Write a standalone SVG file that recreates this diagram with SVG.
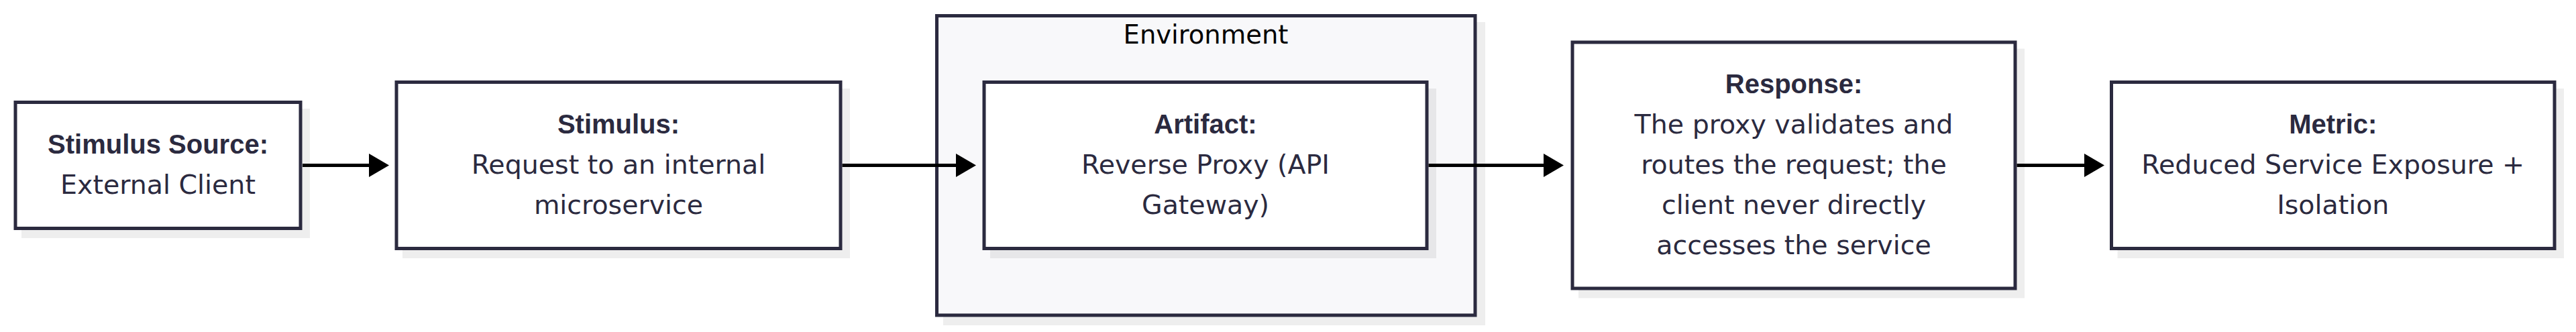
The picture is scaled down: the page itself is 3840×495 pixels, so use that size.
<svg xmlns="http://www.w3.org/2000/svg" width="3840" height="495" viewBox="0 0 3840 495">
<style>
.box{fill:#ffffff;stroke:#2b2a3f;stroke-width:5}
.env{fill:#f8f8fa;stroke:#2b2a3f;stroke-width:5}
.sh{fill:#000000;fill-opacity:0.065}
.t{font-family:"DejaVu Sans",sans-serif;font-size:39.5px;fill:#2b2a3f;text-anchor:middle}
.b{font-family:"Liberation Sans",Arial,sans-serif;font-weight:bold;font-size:40px;fill:#2b2a3f;text-anchor:middle}
.lbl{font-family:"DejaVu Sans",sans-serif;font-size:38.5px;fill:#000000;text-anchor:middle}
.edge{stroke:#000000;stroke-width:5;fill:none}
</style>
<defs>
<marker id="ah" markerUnits="userSpaceOnUse" markerWidth="30" markerHeight="35" refX="5" refY="17.5" orient="auto">
<path d="M0,0 L30,17.5 L0,35 Z" fill="#000000"/>
</marker>
</defs>
<rect width="3840" height="495" fill="#ffffff"/>
<g id="environment">
<rect class="sh" x="1406" y="33" width="808" height="452"/>
<rect class="env" x="1396.5" y="23.5" width="802.5" height="446.5"/>
<text class="lbl" x="1797.5" y="65">Environment</text>
</g>
<g id="stimulus-source">
<rect class="sh" x="32" y="162" width="430" height="193"/>
<rect class="box" x="23" y="152.5" width="425" height="188"/>
<text class="b" x="235.5" y="229.3">Stimulus Source:</text>
<text class="t" x="235.5" y="289.3">External Client</text>
</g>
<g id="stimulus">
<rect class="sh" x="600" y="132" width="667" height="253"/>
<rect class="box" x="591" y="122.5" width="662" height="248"/>
<text class="b" x="922" y="199.3">Stimulus:</text>
<text class="t" x="922" y="259.3">Request to an internal</text>
<text class="t" x="922" y="319.3">microservice</text>
</g>
<g id="artifact">
<rect class="sh" x="1476" y="132" width="665" height="253"/>
<rect class="box" x="1467" y="122.5" width="660" height="248"/>
<text class="b" x="1797" y="199.3">Artifact:</text>
<text class="t" x="1797" y="259.3">Reverse Proxy (API</text>
<text class="t" x="1797" y="319.3">Gateway)</text>
</g>
<g id="response">
<rect class="sh" x="2353" y="72.5" width="665" height="372"/>
<rect class="box" x="2344" y="63" width="660" height="367"/>
<text class="b" x="2674" y="139.3">Response:</text>
<text class="t" x="2674" y="199.3">The proxy validates and</text>
<text class="t" x="2674" y="259.3">routes the request; the</text>
<text class="t" x="2674" y="319.3">client never directly</text>
<text class="t" x="2674" y="379.3">accesses the service</text>
</g>
<g id="metric">
<rect class="sh" x="3156.5" y="132" width="665.5" height="253"/>
<rect class="box" x="3147.5" y="122.5" width="660.5" height="248"/>
<text class="b" x="3477.75" y="199.3">Metric:</text>
<text class="t" x="3477.75" y="259.3">Reduced Service Exposure +</text>
<text class="t" x="3477.75" y="319.3">Isolation</text>
</g>
<g id="connectors">
<line class="edge" x1="451" y1="246.5" x2="555" y2="246.5" marker-end="url(#ah)"/>
<line class="edge" x1="1255.5" y1="246.5" x2="1430" y2="246.5" marker-end="url(#ah)"/>
<line class="edge" x1="2129.5" y1="246.5" x2="2306" y2="246.5" marker-end="url(#ah)"/>
<line class="edge" x1="3006.5" y1="246.5" x2="3112" y2="246.5" marker-end="url(#ah)"/>
</g>
</svg>
